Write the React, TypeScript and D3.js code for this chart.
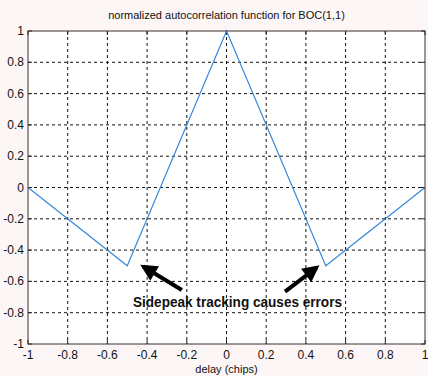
import React from "react";
import * as d3 from "d3";

// Normalized autocorrelation of BOC(1,1): breakpoints of the piecewise-linear curve
const delays = [-1, -0.5, 0, 0.5, 1];
const correlation = [0, -0.5, 1, -0.5, 0];

const xTicks = [-1, -0.8, -0.6, -0.4, -0.2, 0, 0.2, 0.4, 0.6, 0.8, 1];
const yTicks = [-1, -0.8, -0.6, -0.4, -0.2, 0, 0.2, 0.4, 0.6, 0.8, 1];

const titleText = "normalized autocorrelation function for BOC(1,1)";
const xLabelText = "delay (chips)";
const noteText = "Sidepeak tracking causes errors";

// Arrows pointing at the side peaks: [delay, value] of tail and tip
const arrowTails = [[-0.225, -0.655], [0.295, -0.665]];
const arrowTips = [[-0.42, -0.505], [0.455, -0.51]];

const W = 428;
const H = 376;
const left = 28;
const right = 425;
const top = 31;
const bottom = 344;

export default function App() {
  const x = d3.scaleLinear().domain([-1, 1]).range([left, right]);
  const y = d3.scaleLinear().domain([-1, 1]).range([bottom, top]);
  const line = d3
    .line<number>()
    .x((_, i) => x(delays[i]))
    .y((d) => y(d));

  const font = "'Liberation Sans', Arial, sans-serif";

  return (
    <svg
      width={W}
      height={H}
      style={{ position: "absolute", left: 0, top: 0, background: "#fcf7f6" }}
    >
      <defs>
        <marker
          id="head"
          viewBox="0 0 10 10"
          refX="8"
          refY="5"
          markerWidth="4.6"
          markerHeight="4.2"
          orient="auto"
          markerUnits="strokeWidth"
        >
          <path d="M0,0 L10,5 L0,10 z" fill="#000" />
        </marker>
      </defs>
      <rect x={left} y={top} width={right - left} height={bottom - top} fill="#ffffff" />

      {/* dashed grid */}
      {xTicks.slice(1, -1).map((t) => (
        <line
          key={"gx" + t}
          x1={x(t)}
          x2={x(t)}
          y1={top}
          y2={bottom}
          stroke="#111"
          strokeWidth={1}
          strokeDasharray="3,3"
        />
      ))}
      {yTicks.slice(1, -1).map((t) => (
        <line
          key={"gy" + t}
          x1={left}
          x2={right}
          y1={y(t)}
          y2={y(t)}
          stroke="#111"
          strokeWidth={1}
          strokeDasharray="3,3"
        />
      ))}

      {/* inward tick marks on all four sides */}
      {xTicks.map((t) => (
        <g key={"tx" + t}>
          <line x1={x(t)} x2={x(t)} y1={bottom} y2={bottom - 4} stroke="#222" />
          <line x1={x(t)} x2={x(t)} y1={top} y2={top + 4} stroke="#222" />
        </g>
      ))}
      {yTicks.map((t) => (
        <g key={"ty" + t}>
          <line x1={left} x2={left + 4} y1={y(t)} y2={y(t)} stroke="#222" />
          <line x1={right} x2={right - 4} y1={y(t)} y2={y(t)} stroke="#222" />
        </g>
      ))}

      <path
        d={line(correlation) || ""}
        fill="none"
        stroke="#2f86dc"
        strokeWidth={1.1}
      />

      <rect
        x={left}
        y={top}
        width={right - left}
        height={bottom - top}
        fill="none"
        stroke="#3a2f2c"
        strokeWidth={1}
      />

      {/* tick labels */}
      {xTicks.map((t) => (
        <text
          key={"lx" + t}
          x={x(t)}
          y={bottom + 15}
          textAnchor="middle"
          fontFamily={font}
          fontSize={12}
          fill="#111"
        >
          {d3.format("")(t).replace("−", "-")}
        </text>
      ))}
      {yTicks.map((t) => (
        <text
          key={"ly" + t}
          x={left - 4}
          y={y(t) + 4}
          textAnchor="end"
          fontFamily={font}
          fontSize={12}
          fill="#111"
        >
          {d3.format("")(t).replace("−", "-")}
        </text>
      ))}

      <text
        x={(left + right) / 2}
        y={19}
        textAnchor="middle"
        fontFamily={font}
        fontSize={11}
        fill="#111"
      >
        {titleText}
      </text>
      <text
        x={(left + right) / 2}
        y={373}
        textAnchor="middle"
        fontFamily={font}
        fontSize={11}
        fill="#111"
      >
        {xLabelText}
      </text>

      {/* annotation */}
      {arrowTails.map((tail, i) => (
        <line
          key={"arrow" + i}
          x1={x(tail[0])}
          y1={y(tail[1])}
          x2={x(arrowTips[i][0])}
          y2={y(arrowTips[i][1])}
          stroke="#000"
          strokeWidth={4}
          markerEnd="url(#head)"
        />
      ))}
      <text
        x={133}
        y={307}
        textLength={209}
        lengthAdjust="spacingAndGlyphs"
        fontFamily={font}
        fontSize={15}
        fontWeight="bold"
        fill="#111"
      >
        {noteText}
      </text>
    </svg>
  );
}
